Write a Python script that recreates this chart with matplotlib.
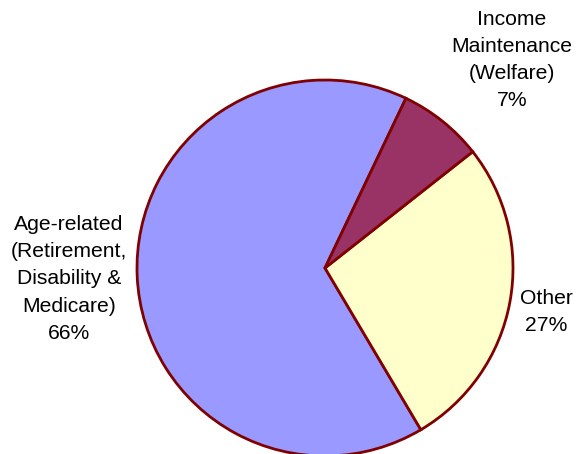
import matplotlib
matplotlib.use("Agg")
import matplotlib.pyplot as plt

categories = ["Age-related", "Other", "Income Maintenance"]
values = [65.6, 27.1, 7.3]
colors = ["#9999FF", "#FFFFCC", "#993366"]
label_texts = ["Age-related\n(Retirement,\nDisability &\nMedicare)", "Other", "Income\nMaintenance\n(Welfare)"]

plt.rcParams['font.family'] = ['Liberation Sans', 'DejaVu Sans']

W, H = 576, 454
fig = plt.figure(figsize=(W / 100, H / 100), dpi=100)
cx, cy, r = 325, 268, 188
ax = fig.add_axes([(cx - r) / W, (H - cy - r) / H, 2 * r / W, 2 * r / H])
ax.pie(values, colors=colors, startangle=64.5, counterclock=True,
       wedgeprops=dict(edgecolor="#800000", linewidth=2.0))
ax.set_xlim(-1, 1)
ax.set_ylim(-1, 1)
ax.axis("off")

# label placement in figure pixel coordinates (text anchors)
label_pos = [(69, 279), (546, 312), (512, 60)]
for txt, v, (px, py) in zip(label_texts, values, label_pos):
    fig.text(px / W, 1 - py / H, f"{txt}\n{v:.0f}%", ha="center", va="center",
             fontsize=15.2, linespacing=1.55, color="black")

fig.savefig("out.png", dpi=100)
